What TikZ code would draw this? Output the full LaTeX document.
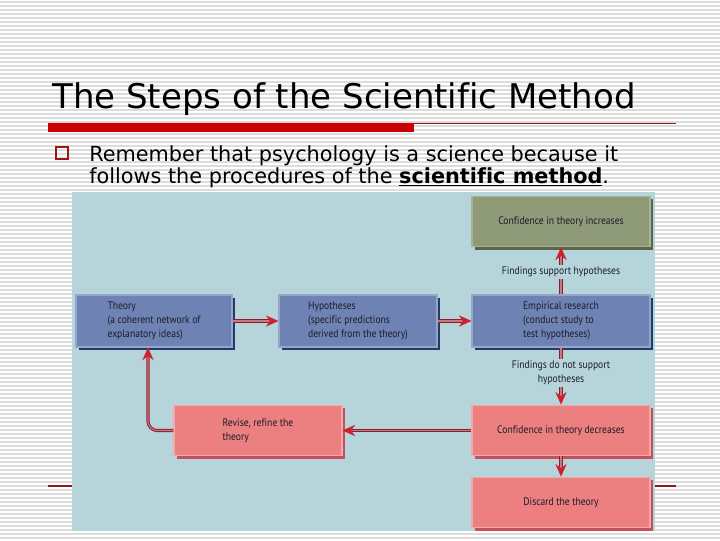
\documentclass[tikz,border=0pt]{standalone}
\usepackage{fontspec}
\setmainfont{DejaVu Sans}[Ligatures=NoCommon]
\newfontfamily\diafont[FakeStretch=0.88,Ligatures=NoCommon]{PT Sans}
\usetikzlibrary{arrows.meta,shadows}
\definecolor{stripe}{HTML}{DCDCDC}
\definecolor{slidered}{HTML}{CC0000}
\definecolor{darkred}{HTML}{8B1A1A}
\definecolor{panel}{HTML}{B5D5DA}
\definecolor{bluebox}{HTML}{6F82B4}
\definecolor{blueshadow}{HTML}{243A6A}
\definecolor{bluelight}{HTML}{95A5CC}
\definecolor{greenbox}{HTML}{8F9A79}
\definecolor{greenshadow}{HTML}{5C6549}
\definecolor{greenlight}{HTML}{A9B294}
\definecolor{pinkbox}{HTML}{EC7F7F}
\definecolor{pinkshadow}{HTML}{C4505B}
\definecolor{pinklight}{HTML}{F4A8A8}
\definecolor{arrowdark}{HTML}{8C1C30}
\definecolor{arrowmid}{HTML}{C87A82}
\definecolor{arrowhead}{HTML}{D0202E}
\definecolor{boxtext}{HTML}{1C1C2A}
\tikzset{
  box/.style={minimum height=39pt, inner sep=0pt, align=left, text=boxtext,
    font=\diafont\fontsize{8.2pt}{10.5pt}\selectfont, line width=0.8pt},
  bluestyle/.style={box, fill=bluebox, draw=bluelight,
    drop shadow={shadow xshift=2pt, shadow yshift=-2pt, fill=blueshadow, opacity=1}},
  greenstyle/.style={box, fill=greenbox, draw=greenlight,
    drop shadow={shadow xshift=2pt, shadow yshift=-2pt, fill=greenshadow, opacity=1}},
  pinkstyle/.style={box, fill=pinkbox, draw=pinklight,
    drop shadow={shadow xshift=2pt, shadow yshift=-2pt, fill=pinkshadow, opacity=1}},
  conn/.style={draw=arrowdark, line width=0.75pt, double=arrowmid, double distance=0.8pt,
    -{Stealth[length=9.5pt, width=8.5pt, color=arrowhead, fill=arrowhead]}},
  lbl/.style={fill=panel, inner sep=1.5pt, align=center, text=boxtext,
    font=\diafont\fontsize{8.2pt}{10.5pt}\selectfont},
}
\begin{document}
\begin{tikzpicture}[x=0.75pt, y=-0.75pt]
\useasboundingbox (0,0) rectangle (720,540);
\fill[white] (0,0) rectangle (720,540);
\foreach \y in {2,6,...,538} \draw[stripe, line width=0.9pt] (0,\y) -- (720,\y);
% title
\node[anchor=base west, inner sep=0pt, font=\fontsize{25.5pt}{30pt}\selectfont] (title) at (52,108) {The Steps of the Scientific Method};
\fill[slidered] (48,122.5) rectangle (414,132);
\draw[darkred, line width=0.6pt] (414,123) -- (676,123);
% bullet
\draw[color=darkred!85!red, line width=1.5pt] (56,146.5) rectangle (67.5,158.5);
\node[anchor=base west, inner sep=0pt, align=left, font=\fontsize{15.6pt}{17pt}\selectfont] (body) at (89,161)
  {Remember that psychology is a science because it};
\node[anchor=base west, inner sep=0pt, align=left, font=\fontsize{15.6pt}{17pt}\selectfont] (body2) at (89,183)
  {follows the procedures of the \underline{\textbf{scientific method}}.};
% footer lines
\draw[darkred, line width=0.8pt] (48,486) -- (676,486);
% panel
\fill[panel] (72,192) rectangle (655,531);
% boxes
\node[bluestyle, minimum width=117pt] (theory) at (154,321) {Theory\\(a coherent network of\\explanatory ideas)};
\node[bluestyle, minimum width=118.5pt] (hyp) at (358,321) {Hypotheses\\(specific predictions\\derived from the theory)};
\node[bluestyle, minimum width=133.5pt] (emp) at (561,321) {Empirical research\\(conduct study to\\test hypotheses)};
\node[greenstyle, minimum width=133.5pt, minimum height=38pt] (inc) at (561,221.5) {Confidence in theory increases};
\node[pinkstyle, minimum width=133.5pt, minimum height=38pt] (dec) at (561,430.5) {Confidence in theory decreases};
\node[pinkstyle, minimum width=133.5pt, minimum height=38pt] (disc) at (561,502.5) {Discard the theory};
\node[pinkstyle, minimum width=126pt, minimum height=38pt] (rev) at (258,430.5) {Revise, refine the\\theory};
% connectors
\draw[conn] (theory) -- (hyp);
\draw[conn] (hyp) -- (emp);
\draw[conn] (emp) -- (inc);
\draw[conn] (emp) -- (dec);
\draw[conn] (dec) -- (disc);
\draw[conn] (dec) -- (rev);
\draw[conn, rounded corners=7pt] (rev.west) -| ([xshift=-4.5pt]theory.south);
% labels
\node[lbl] (lsup) at (561,272) {Findings support hypotheses};
\node[lbl] (lnot) at (561,373) {Findings do not support\\hypotheses};
\end{tikzpicture}
\end{document}
